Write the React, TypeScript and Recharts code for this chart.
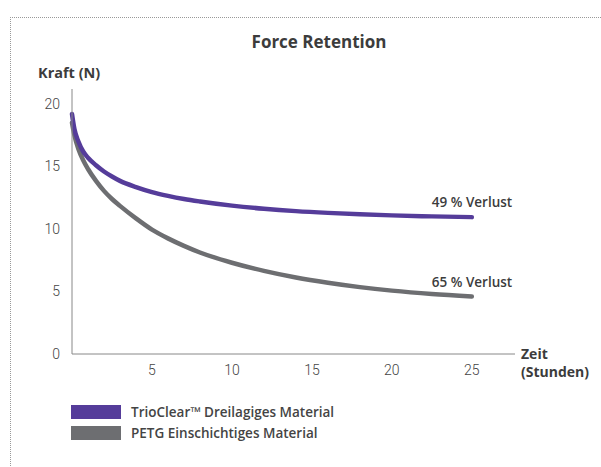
import { LineChart, Line, XAxis, YAxis } from 'recharts'

const hours = [0, 0.15, 0.4, 0.7, 1, 1.5, 2, 2.5, 3, 4, 5, 6, 7, 8, 10, 12, 14, 16, 18, 20, 22.5, 25]
const trioClear = [19.2, 18.0, 17.0, 16.2, 15.7, 15.1, 14.6, 14.2, 13.85, 13.35, 12.95, 12.65, 12.4, 12.2, 11.87, 11.62, 11.43, 11.29, 11.18, 11.09, 11.01, 10.95]
const petg = [18.5, 17.5, 16.4, 15.5, 14.8, 13.85, 13.05, 12.4, 11.85, 10.85, 9.95, 9.25, 8.65, 8.12, 7.3, 6.65, 6.12, 5.7, 5.35, 5.07, 4.8, 4.6]
const xTicks = [5, 10, 15, 20, 25]
const yTicks = [0, 5, 10, 15, 20]
const seriesNames = ['TrioClear™ Dreilagiges Material', 'PETG Einschichtiges Material']
const lossLabels = ['49 % Verlust', '65 % Verlust']

const PURPLE = '#553c9a'
const GREY = '#6d6e71'
const TEXT = '#3c3c3c'
const FONT = '"Open Sans", sans-serif'

const data = hours.map((h, i) => ({ h, trio: trioClear[i], petg: petg[i] }))

// label only at the last point of a series
const endLabel = (text: string) => (props: any) => {
  if (props.index !== hours.length - 1) return null
  return (
    <text x={props.x - 40} y={props.y - 10} fontFamily={FONT} fontSize={13.5} fontWeight={600} fill={TEXT}>
      {text}
    </text>
  )
}

const tickStyle = { fontFamily: 'Roboto, sans-serif', fontSize: 14, fontWeight: 300, fill: '#444' }

export default function App() {
  return (
    <div style={{ position: 'absolute', left: 0, top: 0, width: 601, height: 467, background: '#fff', overflow: 'hidden' }}>
      <div style={{ position: 'absolute', left: 10, top: 17, width: 620, height: 480, borderLeft: '1px dotted #999', borderTop: '1px dotted #999' }} />
      <div style={{ position: 'absolute', left: 0, width: 638, top: 30, textAlign: 'center', fontFamily: FONT, fontSize: 17, fontWeight: 700, color: TEXT }}>
        Force Retention
      </div>
      <div style={{ position: 'absolute', left: 38, top: 63, fontFamily: FONT, fontSize: 14.5, fontWeight: 700, color: TEXT }}>
        Kraft (N)
      </div>
      <div style={{ position: 'absolute', left: 521, top: 345, fontFamily: FONT, fontSize: 14, fontWeight: 700, color: TEXT, lineHeight: '18px' }}>
        Zeit<br />(Stunden)
      </div>
      <LineChart width={601} height={467} data={data} margin={{ top: 89, right: 86, bottom: 83, left: 32 }} style={{ position: 'absolute', left: 0, top: 0 }}>
        <XAxis dataKey="h" type="number" domain={[0, 27.7]} ticks={xTicks} tickLine={false} tickSize={6} tickMargin={5}
          axisLine={{ stroke: '#888' }} tick={tickStyle} height={30} />
        <YAxis type="number" domain={[0, 21.2]} ticks={yTicks} tickLine={false} tickSize={6} tickMargin={6}
          axisLine={{ stroke: '#888' }} tick={tickStyle} width={40} />
        <Line type="monotone" dataKey="petg" name={seriesNames[1]} stroke={GREY} strokeWidth={4.5} dot={false}
          strokeLinecap="round" isAnimationActive={false} label={endLabel(lossLabels[1])} />
        <Line type="monotone" dataKey="trio" name={seriesNames[0]} stroke={PURPLE} strokeWidth={4.5} dot={false}
          strokeLinecap="round" isAnimationActive={false} label={endLabel(lossLabels[0])} />
      </LineChart>
      <div style={{ position: 'absolute', left: 71, top: 401, fontFamily: FONT }}>
        {[PURPLE, GREY].map((c, i) => (
          <div key={i} style={{ display: 'flex', alignItems: 'center', height: 21 }}>
            <div style={{ width: 50, height: 14, background: c, marginRight: 10 }} />
            <span style={{ fontSize: 13.5, fontWeight: 600, color: '#444' }}>{seriesNames[i]}</span>
          </div>
        ))}
      </div>
    </div>
  )
}
